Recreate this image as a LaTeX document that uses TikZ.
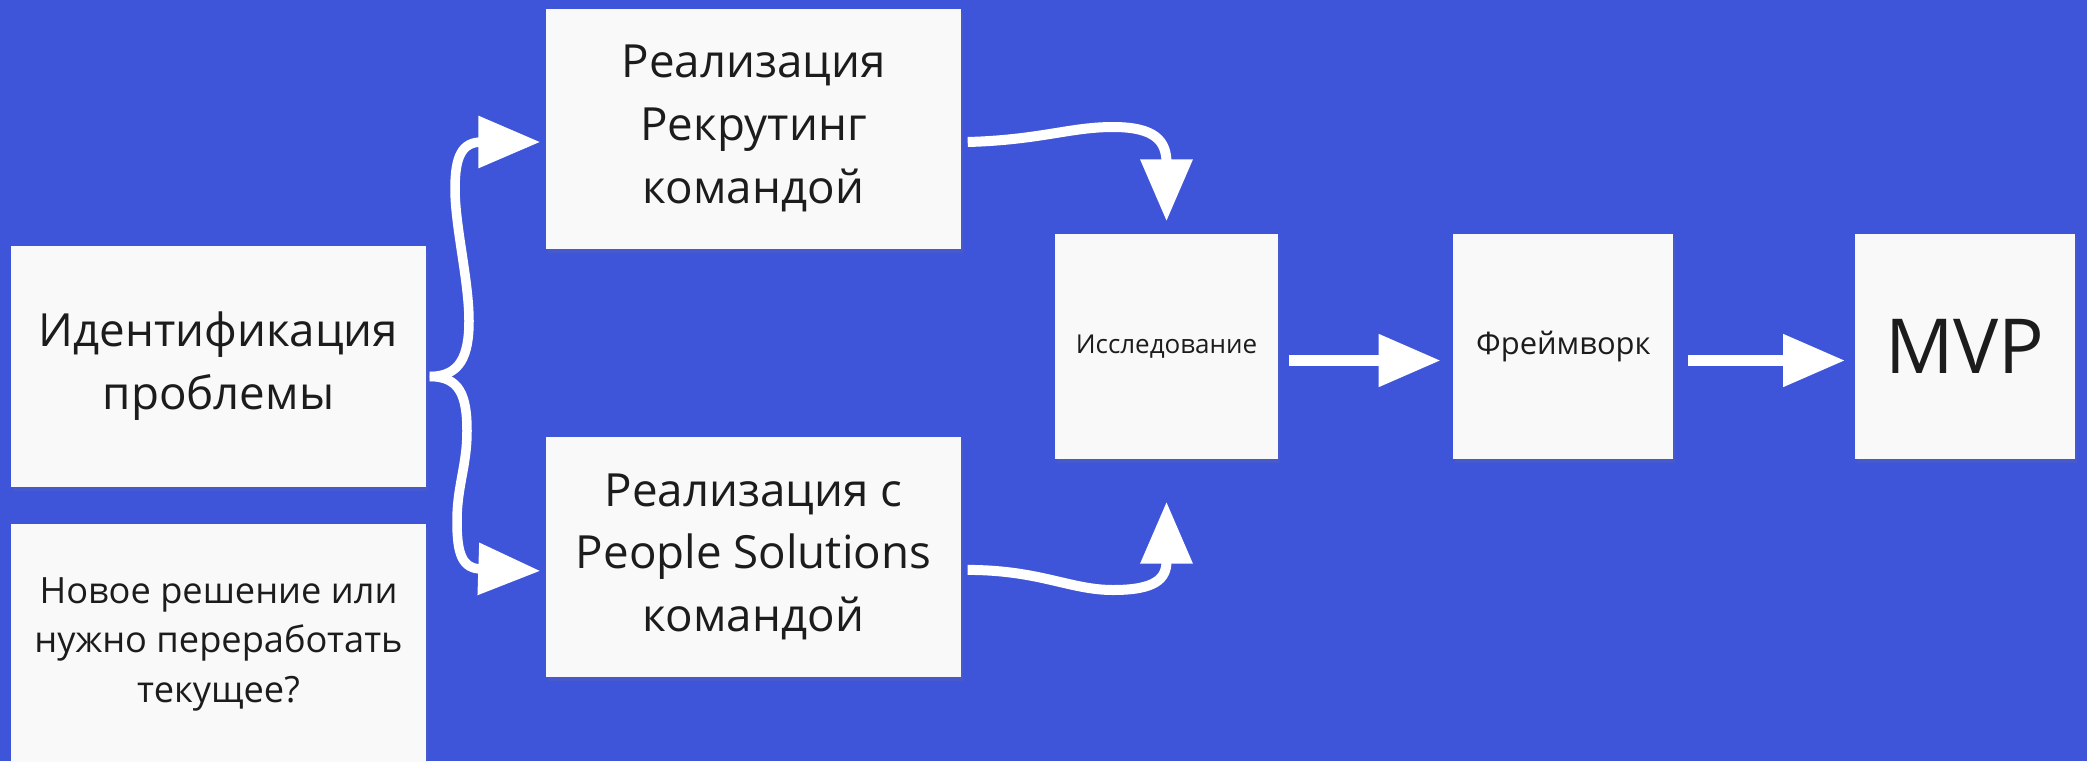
\documentclass[tikz,border=0pt]{standalone}
\usepackage{fontspec}
\setmainfont{Open Sans}
\usepackage{xcolor}
\usetikzlibrary{positioning,arrows.meta,shadows}

\definecolor{boardblue}{RGB}{63,85,217}
\definecolor{notepaper}{RGB}{249,249,249}
\definecolor{notetext}{RGB}{28,28,28}

\begin{document}
\begin{tikzpicture}[
    note/.style={rectangle, fill=notepaper, text=notetext, align=center, inner sep=0pt, drop shadow={opacity=0.12, shadow xshift=0.02cm, shadow yshift=-0.04cm}},
    note_wide/.style={note, minimum width=4.15cm, minimum height=2.4cm, font=\fontsize{13}{17.9}\selectfont},
    note_small/.style={note, minimum width=2.2cm, minimum height=2.25cm},
    flow/.style={draw=white, line width=0.11cm, -{Triangle[length=0.62cm,width=0.5cm]}},
    bendflow/.style={flow, line width=0.1cm},
    splitflow/.style={flow, line width=0.095cm},
]
\fill[boardblue] (0,0) rectangle (20.87,7.61);
\useasboundingbox (0,0) rectangle (20.87,7.61);
% Left column
\node[note_wide, minimum height=2.41cm] (ident) at (2.185,3.945) {Идентификация\\проблемы};
\node[note_wide, below=0.36cm of ident, font=\fontsize{10.3}{14.2}\selectfont] (question) {Новое решение или\\нужно переработать\\текущее?};
% Two ways of doing it
\node[note_wide] (realrec) at (7.535,6.325) {Реализация\\Рекрутинг\\командой};
\node[note_wide, below=1.87cm of realrec] (realps) {Реализация с\\People Solutions\\командой};
% Main row
\node[note_small, minimum width=2.23cm, font=\fontsize{7.4}{9}\selectfont] (research) at (11.665,4.145) {Исследование};
\node[note_small, right=1.74cm of research, font=\fontsize{8.8}{10}\selectfont] (framework) {Фреймворк};
\node[note_small, right=1.8cm of framework, font=\fontsize{21.6}{26}\selectfont] (mvp) {MVP};

% Split brace
\draw[splitflow] ([xshift=0.03cm,yshift=-0.1cm]ident.east) .. controls (4.60,3.845) and (4.69,4.05) .. (4.69,4.40) .. controls (4.69,4.80) and (4.55,5.35) .. (4.55,5.72) .. controls (4.55,6.05) and (4.62,6.19) .. (4.82,6.19) -- ([xshift=-0.05cm,yshift=-0.135cm]realrec.west);
\draw[splitflow] ([xshift=0.03cm,yshift=-0.1cm]ident.east) .. controls (4.60,3.845) and (4.67,3.65) .. (4.67,3.30) .. controls (4.67,2.95) and (4.57,2.75) .. (4.57,2.40) .. controls (4.57,2.07) and (4.62,1.92) .. (4.82,1.92) -- ([xshift=-0.05cm,yshift=-0.14cm]realps.west);
% Into research
\draw[bendflow] ([xshift=0.06cm,yshift=-0.135cm]realrec.east) .. controls (10.4,6.21) and (10.7,6.34) .. (11.13,6.34) .. controls (11.55,6.34) and (11.665,6.2) .. (11.665,5.98) -- ([yshift=0.12cm]research.north);
\draw[bendflow] ([xshift=0.06cm,yshift=-0.13cm]realps.east) .. controls (10.4,1.91) and (10.7,1.71) .. (11.13,1.71) .. controls (11.55,1.71) and (11.665,1.82) .. (11.665,2.0) -- ([yshift=-0.42cm]research.south);
% Straight on
\draw[flow] ([xshift=0.1cm,yshift=-0.14cm]research.east) -- ([xshift=-0.12cm,yshift=-0.14cm]framework.west);
\draw[flow] ([xshift=0.14cm,yshift=-0.14cm]framework.east) -- ([xshift=-0.09cm,yshift=-0.14cm]mvp.west);
\end{tikzpicture}
\end{document}
